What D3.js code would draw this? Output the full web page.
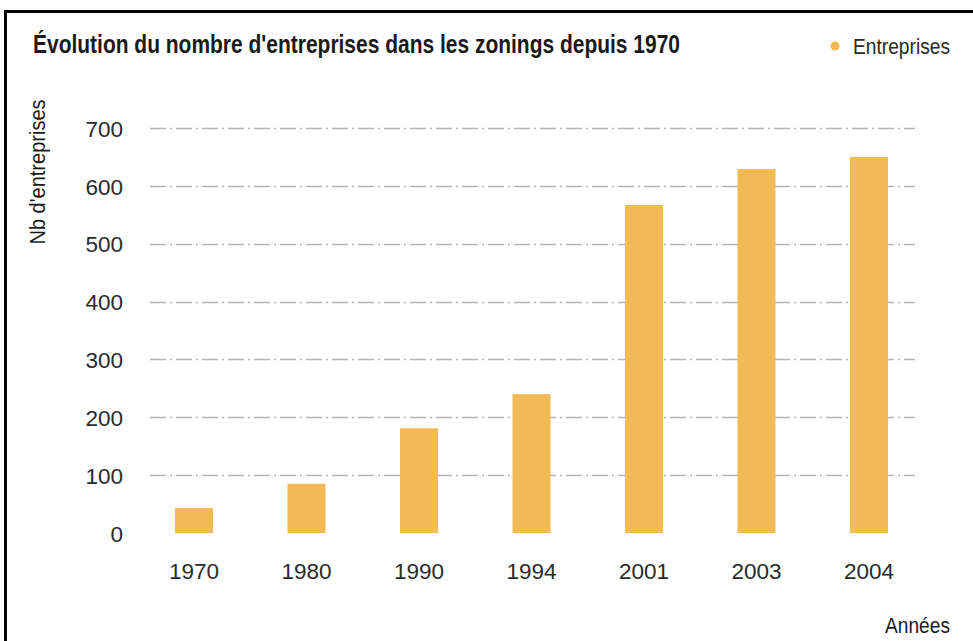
<!DOCTYPE html>
<html>
<head>
<meta charset="utf-8">
<script src="https://cdn.jsdelivr.net/npm/d3@7"></script>
<style>
  body { margin: 0; background: #fff; }
  text { font-family: "Liberation Sans", Arial, sans-serif; }
</style>
</head>
<body>
<script>
var width = 973,
    height = 641;

// donnees
var annees = ["1970", "1980", "1990", "1994", "2001", "2003", "2004"];
var entreprises = [43, 85, 181, 240, 567, 629, 650];
var yTicks = [0, 100, 200, 300, 400, 500, 600, 700];

var data = annees.map(function(a, i){ return {annee: a, nb: entreprises[i]}; });

var svg = d3.select("body").append("svg")
    .attr("width", width)
    .attr("height", height);

// cadre
svg.append("rect")
    .attr("x", 5.5).attr("y", 11.5)
    .attr("width", 980).attr("height", 700)
    .attr("fill", "none")
    .attr("stroke", "#000")
    .attr("stroke-width", 3);

var x = d3.scaleBand()
    .domain(annees)
    .range([137.75, 925.25])
    .paddingInner(0.662)
    .paddingOuter(0.331);

var y = d3.scaleLinear()
    .domain([0, 700])
    .range([533, 128]);

// grille
svg.append("g")
    .selectAll("line")
    .data(yTicks.filter(function(d){ return d > 0; }))
    .enter()
    .append("line")
    .attr("x1", 150).attr("x2", 915)
    .attr("y1", function(d){ return Math.round(y(d)) + 0.5; })
    .attr("y2", function(d){ return Math.round(y(d)) + 0.5; })
    .attr("stroke", "#b4b4b4")
    .attr("stroke-width", 1.3)
    .attr("stroke-dasharray", "16,4,2,4");

// barres
svg.append("g")
    .selectAll("rect")
    .data(data)
    .enter()
    .append("rect")
    .attr("x", function(d){ return x(d.annee); })
    .attr("y", function(d){ return y(d.nb); })
    .attr("width", x.bandwidth())
    .attr("height", function(d){ return y(0) - y(d.nb); })
    .attr("fill", "#f2b955");

// axe y
var yAxis = svg.append("g")
    .attr("transform", "translate(123,1)")
    .call(d3.axisLeft(y).tickValues(yTicks).tickSize(0).tickPadding(0));
yAxis.select(".domain").remove();
yAxis.selectAll("text")
    .attr("font-size", 22.5)
    .attr("fill", "#2a2a2a");

// axe x
var xAxis = svg.append("g")
    .attr("transform", "translate(0,563)")
    .call(d3.axisBottom(x).tickSize(0).tickPadding(0));
xAxis.select(".domain").remove();
xAxis.selectAll("text")
    .attr("font-size", 22.5)
    .attr("fill", "#2a2a2a");

// titre
svg.append("text")
    .attr("x", 33).attr("y", 53)
    .attr("font-size", 25)
    .attr("font-weight", "bold")
    .attr("fill", "#1a1a1a")
    .attr("textLength", 647)
    .attr("lengthAdjust", "spacingAndGlyphs")
    .text("Évolution du nombre d'entreprises dans les zonings depuis 1970");

// legende
svg.append("circle")
    .attr("cx", 835).attr("cy", 46).attr("r", 4.5)
    .attr("fill", "#f2b955");
svg.append("text")
    .attr("x", 853).attr("y", 54)
    .attr("font-size", 22)
    .attr("fill", "#2a2a2a")
    .attr("textLength", 97)
    .attr("lengthAdjust", "spacingAndGlyphs")
    .text("Entreprises");

// titres des axes
svg.append("text")
    .attr("transform", "translate(45,172) rotate(-90)")
    .attr("text-anchor", "middle")
    .attr("font-size", 22)
    .attr("fill", "#1a1a1a")
    .attr("textLength", 145)
    .attr("lengthAdjust", "spacingAndGlyphs")
    .text("Nb d'entreprises");

svg.append("text")
    .attr("x", 950).attr("y", 633)
    .attr("text-anchor", "end")
    .attr("font-size", 22)
    .attr("fill", "#1a1a1a")
    .attr("textLength", 65)
    .attr("lengthAdjust", "spacingAndGlyphs")
    .text("Années");
</script>
</body>
</html>
